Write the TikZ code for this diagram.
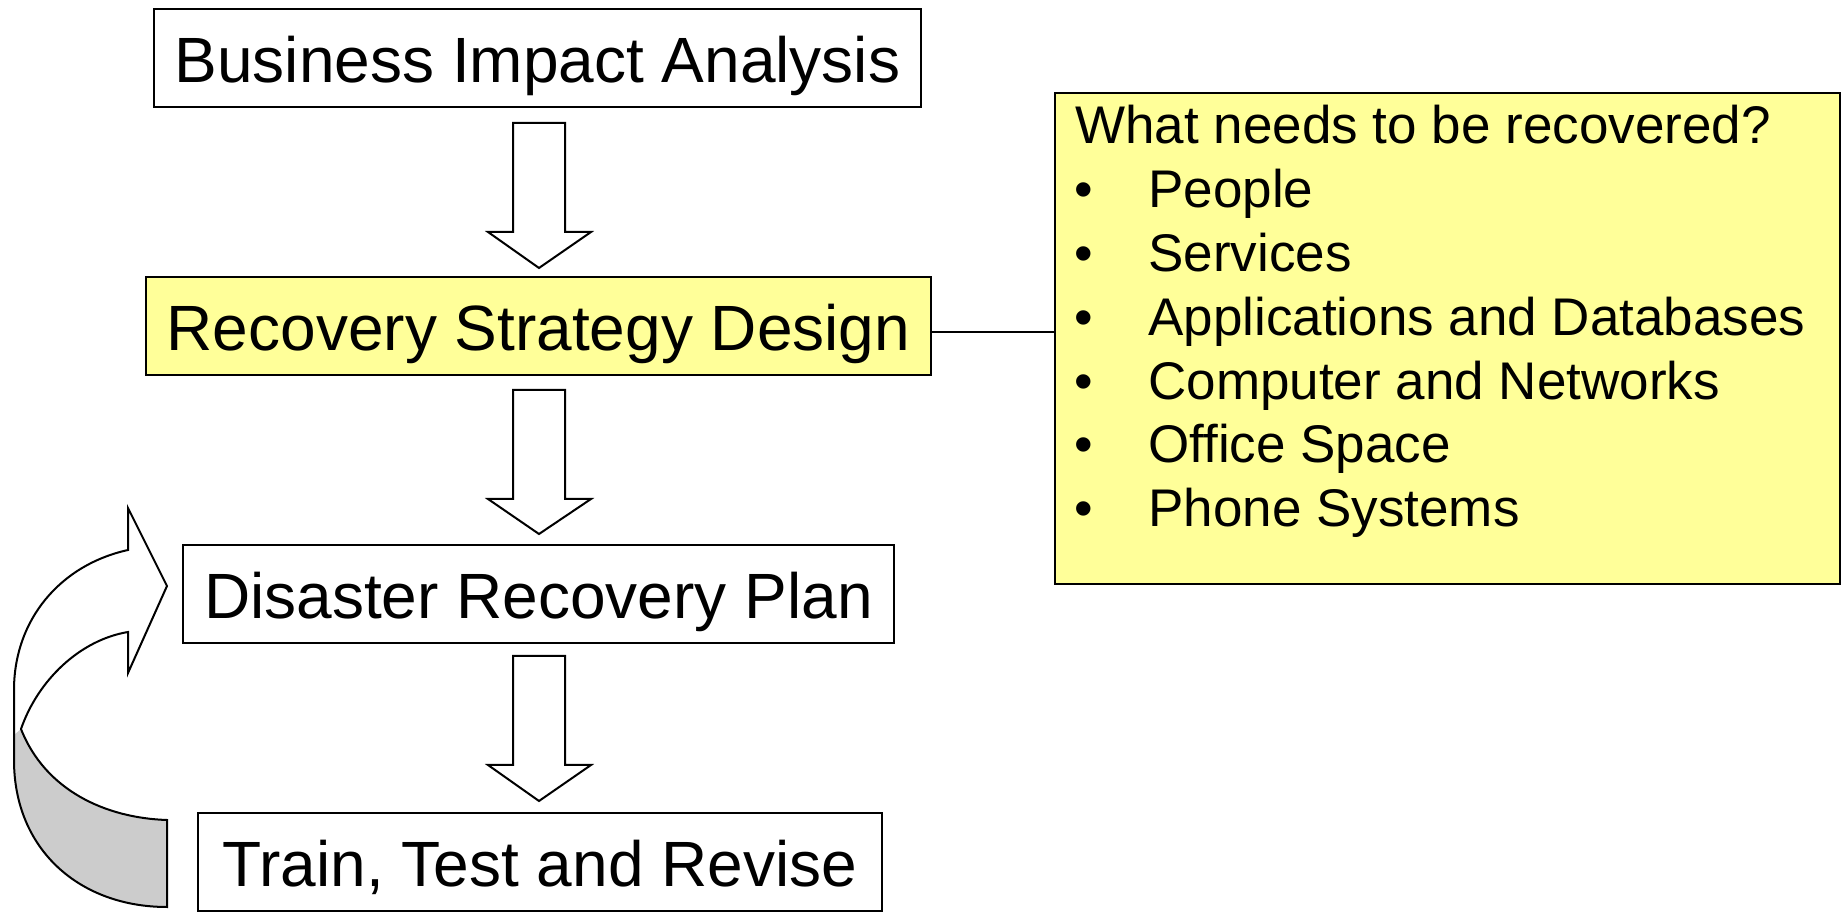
\documentclass[tikz,border=0pt]{standalone}
\usepackage{fontspec}
\setmainfont{Liberation Sans}
\definecolor{paleyellow}{HTML}{FFFF99}
\definecolor{arrowgray}{HTML}{CCCCCC}
\tikzset{
  stagebox/.style={draw=black, line width=1pt, inner sep=0pt, text height=24.5pt, text depth=0pt, font=\fontsize{32}{38}\selectfont},
  blockarrow/.style={draw=black, line width=1pt, fill=white, line join=miter},
  listline/.style={anchor=base west, inner sep=0pt, font=\fontsize{26.5}{32}\selectfont},
  link/.style={draw=black, line width=1pt}
}
\begin{document}
\begin{tikzpicture}[x=0.5pt, y=-0.5pt]
\useasboundingbox (0,0) rectangle (1847,913);
% stage boxes
\node[stagebox, minimum width=767*0.5pt, minimum height=98*0.5pt] (bia) at (537.5,58.5) {Business Impact Analysis};
\node[stagebox, fill=paleyellow, minimum width=785*0.5pt, minimum height=98*0.5pt] (rsd) at (538.5,326) {Recovery Strategy Design};
\node[stagebox, minimum width=711*0.5pt, minimum height=98*0.5pt] (drp) at (538.5,594.5) {Disaster Recovery Plan};
\node[stagebox, minimum width=684*0.5pt, minimum height=98*0.5pt] (ttr) at (540,862) {Train, Test and Revise};
% block arrows
\draw[blockarrow] (513,123) -- (565,123) -- (565,232) -- (591,232) -- (539,268) -- (488,232) -- (513,232) -- cycle;
\draw[blockarrow] (513,390) -- (565,390) -- (565,499) -- (591,499) -- (539,534) -- (488,499) -- (513,499) -- cycle;
\draw[blockarrow] (513,656) -- (565,656) -- (565,765) -- (591,765) -- (539,801) -- (488,765) -- (513,765) -- cycle;
% yellow list box
\node[draw=black, line width=1pt, fill=paleyellow, anchor=north west, inner sep=0pt,
      minimum width=785*0.5pt, minimum height=491*0.5pt] (need) at (1054,92) {};
\coordinate (linkstart) at ([yshift=-3pt]rsd.east);
\draw[link] (linkstart) -- (need.west |- linkstart);
\node[listline] (t0) at (1075,143.7) {What needs to be recovered?};
\node[listline] (b1) at (1074,208) {•};
\node[listline] (t1) at (1148,208) {People};
\node[listline] (b2) at (1074,272) {•};
\node[listline] (t2) at (1148,272) {Services};
\node[listline] (b3) at (1074,335.7) {•};
\node[listline] (t3) at (1148,335.7) {Applications and Databases};
\node[listline] (b4) at (1074,399.3) {•};
\node[listline] (t4) at (1148,399.3) {Computer and Networks};
\node[listline] (b5) at (1074,463) {•};
\node[listline] (t5) at (1148,463) {Office Space};
\node[listline] (b6) at (1074,526.6) {•};
\node[listline] (t6) at (1148,526.6) {Phone Systems};
% curved return arrow
\coordinate (hb) at (128,550);
\coordinate (hi) at (128,632);
\coordinate (ht) at (128,508);
\coordinate (hbot) at (128,673);
\coordinate (tip) at (167,586);
\coordinate (ob) at (167,907);
\coordinate (ir) at (167,820);
\coordinate (ix) at (21,729);
\fill[arrowgray] (ix) .. controls (45,790) and (105,818) .. (ir) -- (ob)
   .. controls (80,907) and (14,850) .. (14,760) -- (14,735) -- cycle;
\draw[black, line width=1pt, line join=miter]
   (hb) .. controls (60,565) and (14,620) .. (14,690) -- (14,760)
   .. controls (14,850) and (80,907) .. (ob) -- (ir)
   .. controls (105,818) and (45,790) .. (ix)
   .. controls (38,680) and (80,640) .. (hi)
   -- (hbot) -- (tip) -- (ht) -- cycle;
\end{tikzpicture}
\end{document}
